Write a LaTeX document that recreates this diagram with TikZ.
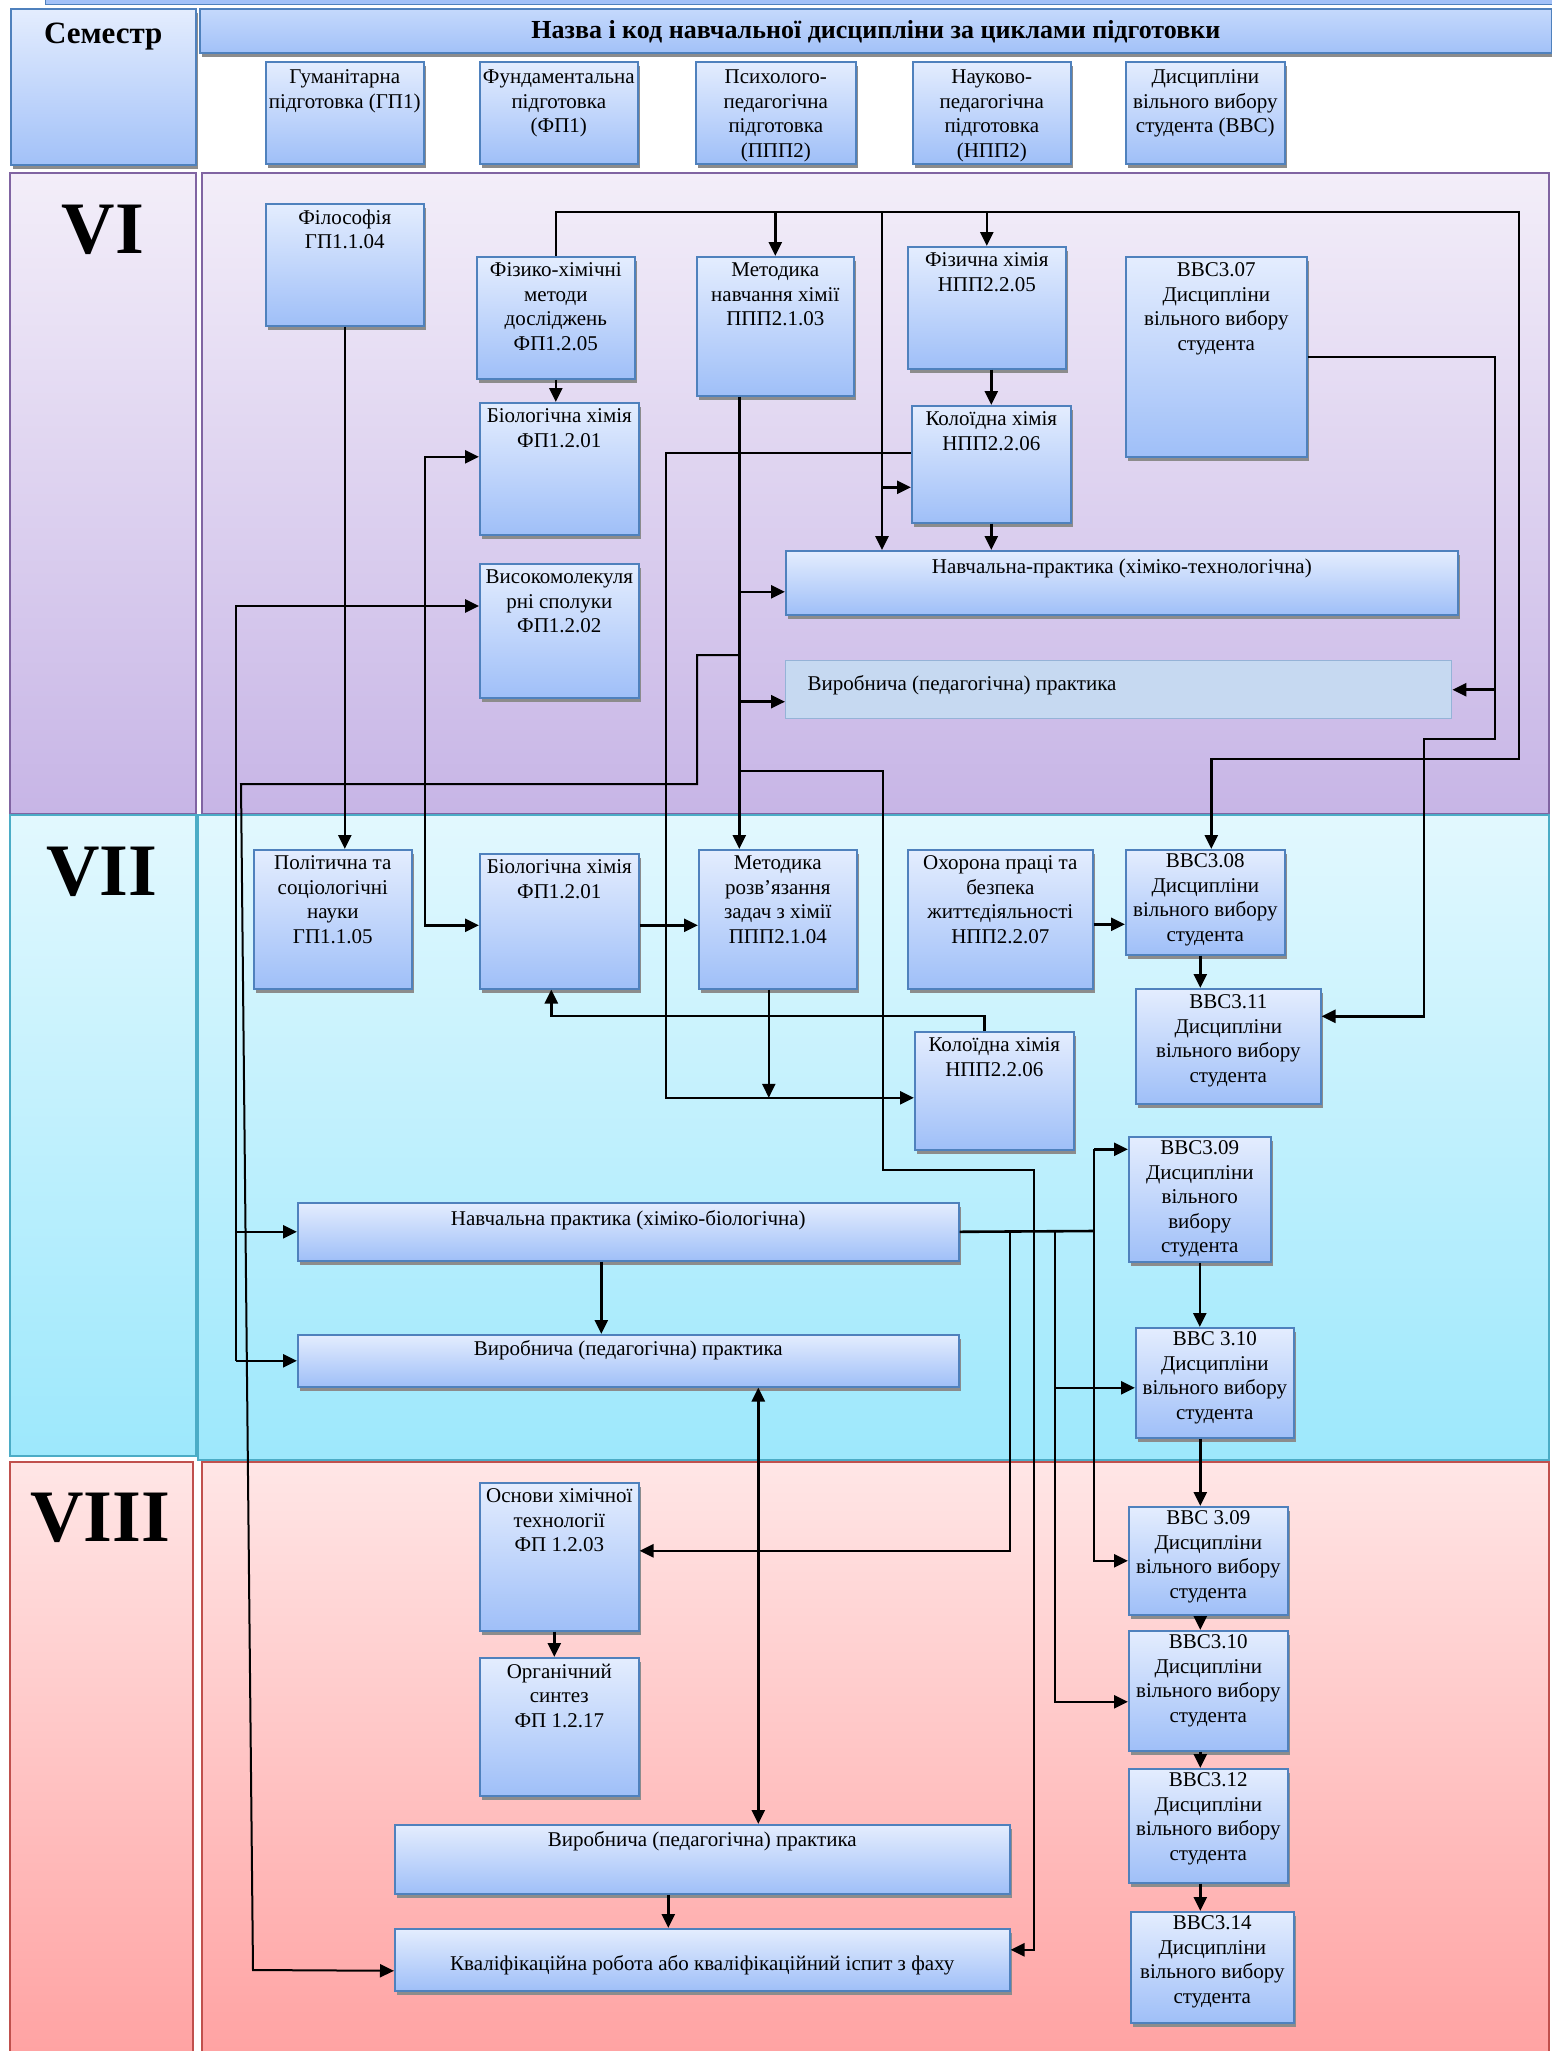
\documentclass[tikz,border=0pt]{standalone}
\usepackage{fontspec}
\setmainfont{Liberation Serif}
\usetikzlibrary{arrows.meta, shadows}

\definecolor{boxtop}{HTML}{E4EDFE}
\definecolor{boxbot}{HTML}{9FBFF8}
\definecolor{boxline}{HTML}{4F81BD}
\definecolor{headtop}{HTML}{C5D9FC}
\definecolor{headbot}{HTML}{A2C1F8}
\definecolor{flatblue}{HTML}{C6D9F1}
\definecolor{vitop}{HTML}{F3EEF9}
\definecolor{vibot}{HTML}{C7B5E6}
\definecolor{viline}{HTML}{8064A2}
\definecolor{viitop}{HTML}{E2F8FE}
\definecolor{viibot}{HTML}{9DE8FC}
\definecolor{viiline}{HTML}{4BACC6}
\definecolor{viiitop}{HTML}{FFE6E6}
\definecolor{viiibot}{HTML}{FFA2A2}
\definecolor{viiiline}{HTML}{C0504D}

% text of a box: width, height, top gap, lines
\newcommand{\subjtext}[4]{\parbox[t][#2pt][t]{#1pt}{\centering\vspace*{#3pt}#4}}

\tikzset{
  subj/.style={anchor=north west, inner sep=0pt, draw=boxline, line width=1.6pt,
    top color=boxtop, bottom color=boxbot,
    drop shadow={shadow xshift=2pt, shadow yshift=-4pt, fill=black!45, opacity=1},
    font=\fontsize{21}{24.5}\selectfont},
  flatsubj/.style={anchor=north west, inner sep=0pt, draw=boxline!60, line width=1.4pt,
    fill=flatblue, font=\fontsize{21}{24.5}\selectfont},
  semnum/.style={anchor=north, inner sep=0pt, font=\bfseries\fontsize{74}{74}\selectfont},
  arr/.style={line width=2.6pt, -{Triangle[length=14pt,width=13pt]}},
  arr2/.style={line width=2.6pt, {Triangle[length=14pt,width=13pt]}-{Triangle[length=14pt,width=13pt]}},
  bus/.style={line width=2.6pt},
}

\begin{document}
\begin{tikzpicture}[x=1pt, y=-1pt]

    \useasboundingbox (0,0) rectangle (1551,2051);
    \fill[white] (0,0) rectangle (1551,2051);

    % Semester bands
    \path[fill=headbot, draw=boxline, line width=1pt] (45,-3) rectangle (1553,4);
    \path[top color=vitop, bottom color=vibot, draw=viline, line width=2pt] (10,173) rectangle (196,814);
    \path[top color=vitop, bottom color=vibot, draw=viline, line width=2pt] (202,173) rectangle (1549,814);
    \path[top color=viitop, bottom color=viibot, draw=viiline, line width=2pt] (198,815) rectangle (1549,1460);
    \path[top color=viitop, bottom color=viibot, draw=viiline, line width=2pt] (10,815) rectangle (196,1456);
    \path[top color=viiitop, bottom color=viiibot, draw=viiiline, line width=2pt] (10,1462) rectangle (193,2060);
    \path[top color=viiitop, bottom color=viiibot, draw=viiiline, line width=2pt] (202,1462) rectangle (1549,2060);

    \node[semnum] (nVI) at (103,205) {VI};
    \node[semnum] (nVII) at (102,847) {VII};
    \node[semnum] (nVIII) at (100,1493) {VIII};

    % Header
    \node[subj, top color=boxtop, bottom color=headbot] (sem) at (10,8) {\subjtext{185}{156}{14}{\bfseries\fontsize{31}{34}\selectfont Семестр}};
    \node[subj, top color=headtop, bottom color=headbot] (head) at (199,8) {\subjtext{1352}{44}{12}{\bfseries\fontsize{26}{29}\selectfont Назва і код навчальної дисципліни за циклами підготовки}};
    \node[subj] (cat1) at (265,61) {\subjtext{158}{102}{8}{Гуманітарна\\підготовка (ГП1)}};
    \node[subj] (cat2) at (479,61) {\subjtext{158}{102}{8}{Фундаментальна\\підготовка\\(ФП1)}};
    \node[subj] (cat3) at (695,61) {\subjtext{160}{102}{8}{Психолого-\\педагогічна\\підготовка\\(ППП2)}};
    \node[subj] (cat4) at (912,61) {\subjtext{158}{102}{8}{Науково-\\педагогічна\\підготовка\\(НПП2)}};
    \node[subj] (cat5) at (1125,61) {\subjtext{159}{102}{8}{Дисципліни\\вільного вибору\\студента (ВВС)}};

    % Semester VI
    \node[subj] (filos) at (265,203) {\subjtext{158}{122}{6}{Філософія\\ГП1.1.04}};
    \node[subj] (fizkhim) at (476,256) {\subjtext{158}{122}{6}{Фізико-хімічні\\методи\\досліджень\\ФП1.2.05}};
    \node[subj] (metnav) at (696,256) {\subjtext{157}{139}{6}{Методика\\навчання хімії\\ППП2.1.03}};
    \node[subj] (fizchem) at (907,246) {\subjtext{158}{122}{6}{Фізична хімія\\НПП2.2.05}};
    \node[subj] (vvs307) at (1125,256) {\subjtext{181}{200}{6}{ВВС3.07\\Дисципліни\\вільного вибору\\студента}};
    \node[subj] (biol6) at (479,402) {\subjtext{159}{132}{6}{Біологічна хімія\\ФП1.2.01}};
    \node[subj] (koloid6) at (911,405) {\subjtext{159}{117}{6}{Колоїдна хімія\\НПП2.2.06}};
    \node[subj] (vysokomol) at (479,563) {\subjtext{159}{134}{6}{Високомолекуля\\рні сполуки\\ФП1.2.02}};
    \node[subj] (navch6) at (785,550) {\subjtext{672}{64}{8}{Навчальна-практика (хіміко-технологічна)}};
    \node[flatsubj] (vyrob6) at (785,660) {\subjtext{666}{58}{15}{\raggedright\hspace*{22pt}Виробнича (педагогічна) практика}};

    % Semester VII
    \node[subj] (polit) at (253,849) {\subjtext{158}{139}{6}{Політична та\\соціологічні\\науки\\ГП1.1.05}};
    \node[subj] (biol7) at (479,853) {\subjtext{159}{135}{6}{Біологічна хімія\\ФП1.2.01}};
    \node[subj] (metrozv) at (698,849) {\subjtext{158}{139}{6}{Методика\\розв’язання\\задач з хімії\\ППП2.1.04}};
    \node[subj] (okhorona) at (907,849) {\subjtext{185}{139}{6}{Охорона праці та\\безпека\\життєдіяльності\\НПП2.2.07}};
    \node[subj] (vvs308) at (1125,849) {\subjtext{159}{105}{4}{ВВС3.08\\Дисципліни\\вільного вибору\\студента}};
    \node[subj] (vvs311) at (1135,988) {\subjtext{185}{115}{6}{ВВС3.11\\Дисципліни\\вільного вибору\\студента}};
    \node[subj] (koloid7) at (914,1031) {\subjtext{159}{118}{6}{Колоїдна хімія\\НПП2.2.06}};
    \node[subj] (vvs309a) at (1128,1136) {\subjtext{142}{125}{4}{ВВС3.09\\Дисципліни\\вільного\\вибору\\студента}};
    \node[subj] (navch7) at (297,1202) {\subjtext{661}{58}{8}{Навчальна практика (хіміко-біологічна)}};
    \node[subj] (vyrob7) at (297,1334) {\subjtext{661}{52}{6}{Виробнича (педагогічна) практика}};
    \node[subj] (vvs310a) at (1135,1327) {\subjtext{158}{110}{4}{ВВС 3.10\\Дисципліни\\вільного вибору\\студента}};

    % Semester VIII
    \node[subj] (osnovy) at (479,1482) {\subjtext{159}{148}{6}{Основи хімічної\\технології\\ФП 1.2.03}};
    \node[subj] (orgsynth) at (479,1657) {\subjtext{159}{138}{6}{Органічний\\синтез\\ФП 1.2.17}};
    \node[subj] (vyrob8) at (394,1824) {\subjtext{615}{69}{7}{Виробнича (педагогічна) практика}};
    \node[subj] (kvalif) at (394,1928) {\subjtext{615}{62}{27}{Кваліфікаційна робота або кваліфікаційний іспит з фаху}};
    \node[subj] (vvs309b) at (1128,1506) {\subjtext{159}{108}{4}{ВВС 3.09\\Дисципліни\\вільного вибору\\студента}};
    \node[subj] (vvs310b) at (1128,1630) {\subjtext{159}{120}{4}{ВВС3.10\\Дисципліни\\вільного вибору\\студента}};
    \node[subj] (vvs312) at (1128,1768) {\subjtext{159}{114}{4}{ВВС3.12\\Дисципліни\\вільного вибору\\студента}};
    \node[subj] (vvs314) at (1130,1911) {\subjtext{163}{111}{4}{ВВС3.14\\Дисципліни\\вільного вибору\\студента}};

    % Connectors, semester VI
    \coordinate (busR) at (1519,212);
    \coordinate (busD) at (1519,759);
    \draw[arr] (fizkhim.north) |- (busR) -- (busD) -| ([xshift=6pt]vvs308.north);
    \draw[arr] (metnav.north |- busR) -- (metnav.north);
    \draw[arr] (fizchem.north |- busR) -- (fizchem.north);
    \coordinate (tapN) at (882,212);
    \draw[arr] (tapN) -- (tapN |- navch6.north);
    \coordinate (kIn) at ([yshift=-23pt]koloid6.west);
    \draw[arr] (tapN |- kIn) -- (kIn);

    \draw[arr] (fizkhim.south) -- (fizkhim.south |- biol6.north);
    \draw[arr] (filos.south) -- (filos.south |- polit.north);
    \draw[arr] (koloid6.north |- fizchem.south) -- (koloid6.north);
    \draw[arr] (koloid6.south) -- (koloid6.south |- navch6.north);

    \coordinate (mv) at ([xshift=-36pt]metnav.south);
    \draw[arr] (mv) -- (mv |- metrozv.north);
    \coordinate (n6in) at ([yshift=-9pt]navch6.west);
    \draw[arr] (mv |- n6in) -- (n6in);
    \coordinate (v6in) at ([yshift=-12pt]vyrob6.west);
    \draw[arr] (mv |- v6in) -- (v6in);

    \coordinate (jA) at (697,655);
    \coordinate (jB) at (697,784);
    \coordinate (jC) at (241,784);
    \coordinate (kvIn) at ([yshift=-11pt]kvalif.west);
    \coordinate (jD) at (253,1970);
    \draw[arr, line width=2pt] (mv |- jA) -- (jA) -- (jB) -- (jC) -- (jD) -- (kvIn);

    \coordinate (kA) at (883,771);
    \coordinate (kB) at (883,1170);
    \coordinate (kC) at (1034,1170);
    \coordinate (kvIn2) at ([yshift=10pt]kvalif.east);
    \draw[arr] (mv |- kA) -- (kA) -- (kB) -- (kC) |- (kvIn2);

    \coordinate (vR1) at (1495,739);
    \coordinate (vR2) at (1424,739);
    \coordinate (v11in) at ([yshift=30pt]vvs311.east);
    \draw[arr] (vvs307.east) -| (vR1) -- (vR2) |- (v11in);
    \draw[arr] (vR1 |- vyrob6.east) -- (vyrob6.east);

    \coordinate (kl1) at (666,453);
    \coordinate (k7in) at ([yshift=-7pt]koloid7.west);
    \draw[arr] (koloid6.west |- kl1) -- (kl1) |- (k7in);
    \draw[arr] ([xshift=-9pt]metrozv.south) -- ([xshift=-9pt]metrozv.south |- k7in);

    \draw[arr2] ([yshift=12pt]biol6.west) -- ++(-54,0) |- ([yshift=-4pt]biol7.west);

    \coordinate (lv) at (236,606);
    \draw[arr] (lv |- vyrob7.west) -- (lv) -- (lv -| vysokomol.west);
    \draw[arr] (lv |- vyrob7.west) -- (vyrob7.west);
    \draw[arr] (lv |- navch7.west) -- (navch7.west);

    % Connectors, semester VII
    \draw[arr] ([yshift=-4pt]biol7.east) -- ([yshift=-4pt]biol7.east -| metrozv.west);
    \draw[arr] ([xshift=-10pt]koloid7.north) -- ++(0,-15) -| ([xshift=-8pt]biol7.south);
    \draw[arr] ([yshift=-5pt]okhorona.east) -- ([yshift=-5pt]okhorona.east -| vvs308.west);
    \draw[arr] ([xshift=-5pt]vvs308.south) -- ([xshift=-5pt]vvs308.south |- vvs311.north);
    \draw[arr] (vvs309a.south) -- (vvs309a.south |- vvs310a.north);
    \draw[arr] ([xshift=-27pt]navch7.south) -- ([xshift=-27pt]navch7.south |- vyrob7.north);
    \coordinate (vp) at ([xshift=130pt]vyrob7.south);
    \draw[arr2] (vp) -- (vp |- vyrob8.north);

    \coordinate (nb) at (1094,1231);
    \coordinate (nc) at (1010,1231);
    \coordinate (nd) at (1055,1231);
    \draw[bus] (navch7.east) -- (nb);
    \coordinate (v9in) at ([yshift=50pt]vvs309a.west);
    \draw[arr] (nb |- v9in) -- (v9in);
    \draw[arr] (nb |- v9in) -- (nb |- vvs309b.west) -- (vvs309b.west);
    \coordinate (osIn) at ([yshift=6pt]osnovy.east);
    \draw[arr] (nc) |- (osIn);
    \coordinate (v10in) at ([yshift=-5pt]vvs310a.west);
    \coordinate (v10bin) at ([yshift=-11pt]vvs310b.west);
    \draw[arr] (nd) |- (v10bin);
    \draw[arr] (nd |- v10in) -- (v10in);

    % Connectors, semester VIII
    \draw[arr] ([xshift=-8pt]vvs309b.north |- vvs310a.south) -- ([xshift=-8pt]vvs309b.north);
    \foreach \a/\b in {vvs309b/vvs310b, vvs310b/vvs312, vvs312/vvs314}
        \draw[arr] ([xshift=-8pt]\a.south) -- ([xshift=-8pt]\a.south |- \b.north);
    \draw[arr] ([xshift=-5pt]osnovy.south) -- ([xshift=-5pt]osnovy.south |- orgsynth.north);
    \draw[arr] ([xshift=-34pt]vyrob8.south) -- ([xshift=-34pt]vyrob8.south |- kvalif.north);

\end{tikzpicture}
\end{document}
